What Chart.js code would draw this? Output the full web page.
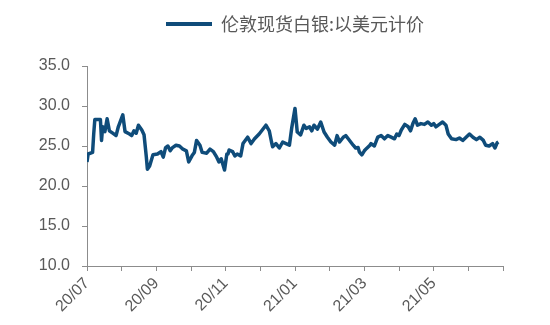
<!DOCTYPE html>
<html>
<head>
<meta charset="utf-8">
<script src="https://cdn.jsdelivr.net/npm/chart.js@4.4.0/dist/chart.umd.min.js"></script>
<style>
  html, body { margin: 0; padding: 0; background: #ffffff; }
  #wrap { width: 550px; height: 325px; position: relative; }
</style>
</head>
<body>
<div id="wrap"><canvas id="c" width="550" height="325"></canvas></div>
<script>
const seriesName = '伦敦现货白银:以美元计价';
const dates = [
  '2020-07-01','2020-07-02','2020-07-06','2020-07-07','2020-07-08','2020-07-13','2020-07-14','2020-07-15','2020-07-17','2020-07-19',
  '2020-07-21','2020-07-24','2020-07-27','2020-07-29','2020-08-02','2020-08-04','2020-08-08','2020-08-10','2020-08-12','2020-08-14',
  '2020-08-16','2020-08-19','2020-08-21','2020-08-23','2020-08-24','2020-08-26','2020-08-29','2020-09-02','2020-09-05','2020-09-07',
  '2020-09-09','2020-09-11','2020-09-13','2020-09-15','2020-09-18','2020-09-21','2020-09-24','2020-09-27','2020-09-29','2020-10-02',
  '2020-10-04','2020-10-06','2020-10-09','2020-10-11','2020-10-15','2020-10-18','2020-10-21','2020-10-24','2020-10-26','2020-10-28',
  '2020-10-31','2020-11-02','2020-11-03','2020-11-04','2020-11-07','2020-11-09','2020-11-11','2020-11-14','2020-11-16','2020-11-20',
  '2020-11-23','2020-11-26','2020-11-30','2020-12-06','2020-12-09','2020-12-11','2020-12-12','2020-12-15','2020-12-18','2020-12-21',
  '2020-12-24','2020-12-27','2020-12-29','2021-01-01','2021-01-03','2021-01-06','2021-01-09','2021-01-11','2021-01-14','2021-01-16',
  '2021-01-18','2021-01-21','2021-01-24','2021-01-27','2021-01-30','2021-02-02','2021-02-05','2021-02-07','2021-02-09','2021-02-12',
  '2021-02-14','2021-02-16','2021-02-20','2021-02-22','2021-02-24','2021-02-25','2021-02-27','2021-03-01','2021-03-03','2021-03-06',
  '2021-03-07','2021-03-10','2021-03-13','2021-03-16','2021-03-19','2021-03-22','2021-03-25','2021-03-28','2021-03-30','2021-04-01',
  '2021-04-03','2021-04-06','2021-04-09','2021-04-11','2021-04-13','2021-04-15','2021-04-17','2021-04-20','2021-04-23','2021-04-26',
  '2021-04-29','2021-05-01','2021-05-03','2021-05-06','2021-05-09','2021-05-12','2021-05-14','2021-05-17','2021-05-21','2021-05-24',
  '2021-05-27','2021-05-30','2021-06-02','2021-06-05','2021-06-08','2021-06-11','2021-06-14','2021-06-16','2021-06-19','2021-06-22',
  '2021-06-24','2021-06-26','2021-06-27'
];
const prices = [
  23.0,24.0,24.2,26.5,28.3,28.3,25.7,27.4,26.8,28.4,
  26.9,26.6,26.3,27.4,28.9,26.8,26.5,26.3,26.9,26.6,
  27.6,27.0,26.4,23.7,22.1,22.5,23.9,24.0,24.3,23.6,
  24.8,25.0,24.4,24.8,25.1,25.0,24.6,24.4,23.0,23.8,
  24.2,25.7,25.1,24.2,24.1,24.6,24.3,23.6,23.0,23.4,
  22.0,24.0,24.0,24.5,24.3,23.75,24.0,23.75,25.3,26.1,
  25.3,25.9,26.5,27.6,26.9,25.5,24.9,25.3,24.75,25.5,
  25.3,25.1,27.2,29.7,26.75,26.4,27.6,27.2,27.4,26.9,
  27.6,27.1,28.0,26.75,26.1,25.5,25.1,26.3,25.5,26.1,
  26.3,25.9,25.1,24.75,24.8,24.25,23.9,24.4,24.7,25.1,
  25.3,25.0,26.1,26.3,25.9,26.3,26.1,25.9,26.5,26.3,
  27.0,27.7,27.4,26.9,27.8,28.4,27.6,27.8,27.7,28.0,
  27.6,27.8,27.4,27.7,28.0,27.6,26.5,25.9,25.8,26.0,
  25.7,26.1,26.5,26.1,25.8,26.1,25.7,25.1,25.0,25.3,
  24.75,25.4,25.5
];
const xTickLabels = ['20/07','','20/09','','20/11','','21/01','','21/03','','21/05','',''];
const yTicks = [10, 15, 20, 25, 30, 35];

function monthPos(s) {
  const [y, m, d] = s.split('-').map(Number);
  const dim = new Date(y, m, 0).getDate();
  return (y - 2020) * 12 + (m - 7) + (d - 1) / dim;
}
const points = dates.map((d, i) => ({ x: monthPos(d), y: prices[i] }));

const lineColor = '#0f4c7a';
const axisColor = '#8c8c8c';
const textColor = '#595959';

const legendGap = {
  id: 'legendGap',
  beforeInit(chart) {
    const origFit = chart.legend.fit;
    chart.legend.fit = function () {
      origFit.bind(chart.legend)();
      this.height += 23;
    };
  }
};

new Chart(document.getElementById('c'), {
  type: 'line',
  data: {
    datasets: [{
      label: seriesName,
      data: points,
      borderColor: lineColor,
      backgroundColor: lineColor,
      borderWidth: 3.5,
      pointRadius: 0,
      tension: 0,
      borderJoinStyle: 'round',
      fill: false
    }]
  },
  options: {
    responsive: false,
    animation: false,
    devicePixelRatio: 1,
    layout: { padding: { left: 0, right: 47, top: 7, bottom: 0 } },
    plugins: {
      legend: {
        display: true,
        position: 'top',
        fullSize: false,
        labels: {
          boxWidth: 46,
          boxHeight: 4,
          padding: 8,
          color: textColor,
          font: { family: '"Noto Sans CJK SC", "Noto Sans", sans-serif', size: 18 },
          generateLabels(chart) {
            const items = Chart.defaults.plugins.legend.labels.generateLabels(chart);
            items.forEach(it => { it.lineWidth = 0; it.fillStyle = lineColor; });
            return items;
          }
        }
      },
      tooltip: { enabled: false }
    },
    scales: {
      x: {
        type: 'linear',
        min: 0,
        max: 12,
        afterFit(scale) { scale.height = 59; },
        ticks: {
          stepSize: 1,
          autoSkip: false,
          minRotation: 45,
          maxRotation: 45,
          padding: 3,
          color: textColor,
          font: { family: '"Liberation Sans", Arial, sans-serif', size: 16 },
          callback: (v) => xTickLabels[v] ?? ''
        },
        grid: { display: true, drawOnChartArea: false, drawTicks: true, tickLength: 5, color: axisColor },
        border: { display: true, color: axisColor, width: 1 }
      },
      y: {
        min: 10,
        max: 35,
        afterFit(scale) { scale.width = 87; },
        afterBuildTicks(scale) { scale.ticks = yTicks.map(v => ({ value: v })); },
        ticks: {
          padding: 12,
          color: textColor,
          font: { family: '"Liberation Sans", Arial, sans-serif', size: 16 },
          callback: (v) => Number(v).toFixed(1)
        },
        grid: { display: true, drawOnChartArea: false, drawTicks: true, tickLength: 5, color: axisColor },
        border: { display: true, color: axisColor, width: 1 }
      }
    }
  },
  plugins: [legendGap]
});
</script>
</body>
</html>
